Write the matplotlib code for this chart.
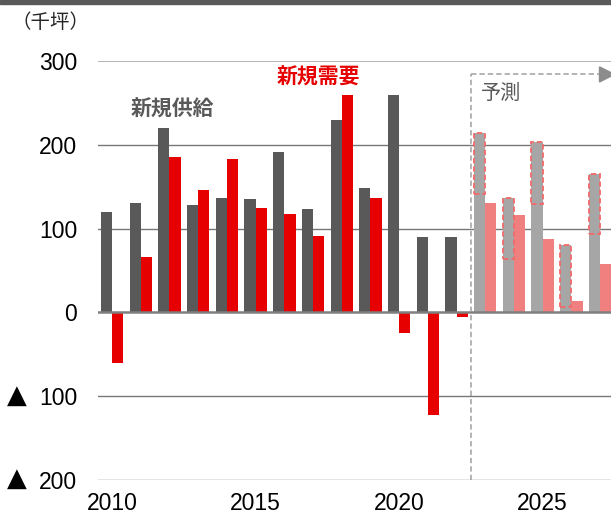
import matplotlib
matplotlib.use("Agg")
import matplotlib.pyplot as plt
from matplotlib.patches import Rectangle, Polygon
from matplotlib.transforms import blended_transform_factory

years = list(range(2010, 2028))
supply = [120, 130, 220, 128, 136, 135, 191, 123, 229, 149, 260, 90, 90,
          214, 137, 203, 80, 165]
demand = [-60, 66, 186, 146, 183, 124, 117, 91, 259, 136, -25, -123, -5,
          130, 116, 87, 14, 58]
forecast_start = 2023
# dashed range boxes on forecast supply (bottom, top)
box_low = [141, 64, 129, 6, 93]
box_high = [214, 137, 203, 80, 165]
yticks = [300, 200, 100, 0, -100, -200]
ytick_labels = ["300", "200", "100", "0", "100", "200"]
xticks = [2010, 2015, 2020, 2025]

C_SUP = "#595959"
C_DEM = "#e60000"
C_SUP_F = "#a6a6a6"
C_DEM_F = "#f08080"

W, H = 611, 515
fig = plt.figure(figsize=(W / 100, H / 100), dpi=100)
ax = fig.add_axes([98 / W, (H - 480) / H, (W - 98) / W, (480 - 61) / H])
ax.set_xlim(2009.51, 2027.38)
ax.set_ylim(-200, 300)

bw = 0.39
off = 0.195
sup_colors = [C_SUP if y < forecast_start else C_SUP_F for y in years]
dem_colors = [C_DEM if y < forecast_start else C_DEM_F for y in years]
ax.bar([y - off for y in years], supply, width=bw, color=sup_colors, zorder=2)
ax.bar([y + off for y in years], demand, width=bw, color=dem_colors, zorder=2)

# gridlines
for v in yticks:
    if v == 0:
        ax.axhline(0, color="#7f7f7f", lw=1.8, zorder=4)
    elif v == 300:
        ax.axhline(v, color="#a6a6a6", lw=1.2, zorder=1)
    else:
        ax.axhline(v, color="#777777", lw=1.0, zorder=1)

# dashed boxes on forecast supply
fyears = [y for y in years if y >= forecast_start]
for y, lo, hi in zip(fyears, box_low, box_high):
    ax.add_patch(Rectangle((y - off - bw / 2, lo), bw, hi - lo, fill=False,
                           edgecolor="#f26a6a", lw=1.3, ls=(0, (3, 1.6)),
                           zorder=3))

# forecast bracket
xb = 2022.5
ytop = 284
ax.plot([xb, xb], [-200, ytop], color="#a0a0a0", lw=1.1, ls=(0, (3.5, 2)),
        clip_on=False, zorder=5)
ax.plot([xb, 2026.98], [ytop, ytop], color="#a0a0a0", lw=1.1, ls=(0, (3.5, 2)),
        clip_on=False, zorder=5)
ax.add_patch(Polygon([[2026.98, ytop + 9], [2026.98, ytop - 9], [2027.5, ytop]],
                     closed=True, color="#8c8c8c", clip_on=False, zorder=5))

cjk = ["Noto Sans CJK JP", "DejaVu Sans"]
ax.text(2023.55, 261, "予測", fontsize=14.5, color="#595959", family=cjk,
        ha="center", va="center")
ax.text(2012.09, 243, "新規供給", fontsize=15, color="#595959", family=cjk,
        fontweight="bold", ha="center", va="center")
ax.text(2017.18, 281, "新規需要", fontsize=15, color=C_DEM, family=cjk,
        fontweight="bold", ha="center", va="center")
fig.text(50 / W, 1 - 23 / H, "（千坪）", fontsize=14, color="#262626",
         family=cjk, ha="center", va="center")

ax.set_yticks(yticks)
ax.set_yticklabels(ytick_labels, family="Liberation Sans", fontsize=16.5)
ax.set_xticks(xticks)
ax.set_xticklabels([str(x) for x in xticks], family="Liberation Sans",
                   fontsize=16.5)
ax.tick_params(axis="y", length=0, pad=15)
ax.tick_params(axis="x", length=0, pad=9)
for s in ax.spines.values():
    s.set_visible(False)

# negative markers (▲) in front of the negative tick labels
tr = blended_transform_factory(fig.transFigure, ax.transData)
for v in yticks:
    if v < 0:
        fig.text(17 / W, v + 1, "▲", transform=tr, fontsize=18.5, color="black",
                 family="DejaVu Sans", ha="center", va="center")

# top border band
fig.patches.append(Rectangle((0, 1 - 4 / H), 1, 4 / H, transform=fig.transFigure,
                             color="#595959", zorder=10))

fig.savefig("out.png", dpi=100)
